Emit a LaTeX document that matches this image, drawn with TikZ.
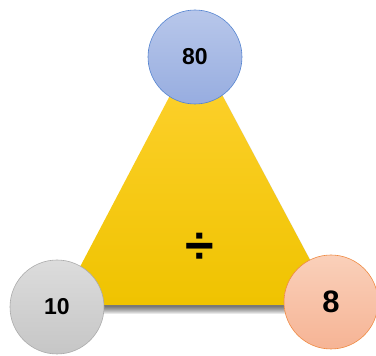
\documentclass[tikz,border=0pt]{standalone}
\usepackage{xcolor}
\usepackage{fontspec}
\setmainfont{Liberation Sans}
\usepackage{tikz}

\definecolor{trtop}{HTML}{FFD232}
\definecolor{trmid}{HTML}{FFCC00}
\definecolor{trbot}{HTML}{EFC300}
\definecolor{bltop}{HTML}{B8C7EA}
\definecolor{blbot}{HTML}{97ADE0}
\definecolor{bledge}{HTML}{5584D0}
\definecolor{grtop}{HTML}{DCDCDC}
\definecolor{grbot}{HTML}{C6C6C6}
\definecolor{gredge}{HTML}{ABABAB}
\definecolor{ortop}{HTML}{FAD0BA}
\definecolor{orbot}{HTML}{F6B495}
\definecolor{oredge}{HTML}{EF8A42}

\begin{document}
\begin{tikzpicture}[x=1pt, y=1pt,
		num/.style={circle, draw, semithick, minimum size=94pt, inner sep=0pt,
			font=\fontsize{23}{28}\selectfont\bfseries},
		tri/.style={top color=trtop, middle color=trmid, bottom color=trbot},
		shade layer/.style={fill=black, opacity=0.09}
	]
	\useasboundingbox (0,0) rectangle (376,356);

	% the triangle, corners hidden under the circles
	\coordinate (apex) at (196,310);
	\coordinate (lft) at (60,51);
	\coordinate (rgt) at (334,51);
	% soft shadow: a stack of faint copies, shifted down
	\foreach \d in {2,3,...,9}
		\path[shade layer] ([shift={(1.5,-\d)}]apex) -- ([shift={(1.5,-\d)}]rgt)
			-- ([shift={(1.5,-\d)}]lft) -- cycle;
	\path[tri] (apex) -- (rgt) -- (lft) -- cycle;

	\node[font=\fontsize{52}{60}\selectfont\bfseries] (op) at (200,108) {÷};

	% 80 / 10 = 8
	\node[num, draw=bledge, top color=bltop, bottom color=blbot] (dividend) at (195,299) {80};
	\node[num, draw=gredge, top color=grtop, bottom color=grbot] (divisor) at (57,49) {10};
	\node[num, draw=oredge, top color=ortop, bottom color=orbot,
		font=\fontsize{31}{36}\selectfont\bfseries] (quotient) at (331,54) {8};
\end{tikzpicture}
\end{document}
